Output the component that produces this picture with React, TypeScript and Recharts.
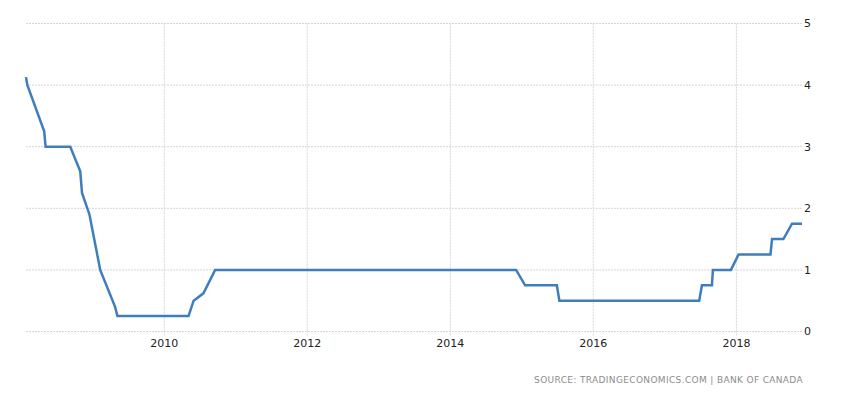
import { LineChart, Line, XAxis, YAxis, CartesianGrid } from 'recharts';

// Bank of Canada policy rate
const dates = [
  '2008-01-26', '2008-02-02', '2008-04-28', '2008-05-05', '2008-09-08',
  '2008-10-29', '2008-11-07', '2008-12-15', '2009-02-08', '2009-04-25',
  '2009-05-07', '2010-05-05', '2010-05-31', '2010-07-20', '2010-09-18',
  '2014-12-03', '2015-01-18', '2015-06-29', '2015-07-12', '2017-06-25',
  '2017-07-09', '2017-08-29', '2017-09-03', '2017-12-04', '2018-01-12',
  '2018-06-24', '2018-07-02', '2018-08-29', '2018-10-12', '2018-12-02',
];
const rates = [
  4.13, 4.0, 3.25, 3.0, 3.0,
  2.6, 2.25, 1.9, 1.0, 0.4,
  0.25, 0.25, 0.5, 0.62, 1.0,
  1.0, 0.75, 0.75, 0.5, 0.5,
  0.75, 0.75, 1.0, 1.0, 1.25,
  1.25, 1.5, 1.5, 1.75, 1.75,
];
const tickYears = [2010, 2012, 2014, 2016, 2018];
const yTicks = [0, 1, 2, 3, 4, 5];
const sourceText = 'SOURCE: TRADINGECONOMICS.COM | BANK OF CANADA';

const toTime = (d: string) => {
  const [y, m, day] = d.split('-').map(Number);
  return Date.UTC(y, m - 1, day);
};

const data = dates.map((d, i) => ({ t: toTime(d), value: rates[i] }));
const xTicks = tickYears.map((y) => Date.UTC(y, 0, 1));

const font = '"DejaVu Sans", Verdana, sans-serif';

export default function App() {
  return (
    <div style={{ position: 'relative', width: 854, height: 398, margin: -8, background: '#fff' }}>
      <LineChart
        width={854}
        height={398}
        data={data}
        margin={{ top: 23.5, right: 12, bottom: 36.5, left: 26 }}
      >
        <CartesianGrid stroke="#d6d6d6" strokeDasharray="2 1" verticalValues={xTicks} />
        <XAxis
          dataKey="t"
          type="number"
          scale="time"
          domain={['dataMin', 'dataMax']}
          ticks={xTicks}
          tickFormatter={(v: number) => String(new Date(v).getUTCFullYear())}
          axisLine={false}
          tickLine={{ stroke: '#d6d6d6', strokeDasharray: '2 1' }}
          tickSize={4}
          tickMargin={4}
          height={30}
          tick={{ fill: '#222', fontSize: 11, fontFamily: font }}
        />
        <YAxis
          orientation="right"
          domain={[0, 5]}
          ticks={yTicks}
          axisLine={false}
          tickLine={false}
          tickSize={0}
          tickMargin={2}
          width={40}
          tick={{ fill: '#222', fontSize: 11, fontFamily: font, textAnchor: 'start' }}
        />
        <Line
          type="linear"
          dataKey="value"
          stroke="#3f7ebd"
          strokeWidth={2.5}
          dot={false}
          isAnimationActive={false}
        />
      </LineChart>
      <div
        style={{
          position: 'absolute',
          right: 854 - 803,
          top: 375,
          fontFamily: font,
          fontSize: 9,
          letterSpacing: 0.35,
          color: '#8c8c8c',
          whiteSpace: 'pre',
        }}
      >
        {sourceText}
      </div>
    </div>
  );
}
